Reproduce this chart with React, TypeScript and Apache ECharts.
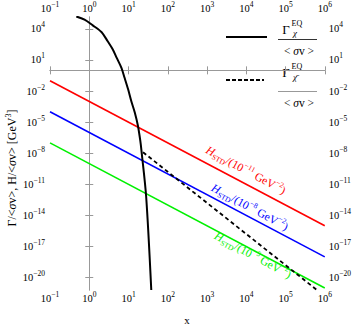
import React, { useEffect, useRef } from "react";
import * as echarts from "echarts";

// log10(x) tick positions and log10(y) tick positions
const xTicks = [-1, 0, 1, 2, 3, 4, 5, 6];
const yTicks = [-20, -17, -14, -11, -8, -5, -2, 1, 4];

// H/<σv> lines (log10 x, log10 y)
const hubbleLogX = [-1, 6];
const redLogY = [-1, -15];
const blueLogY = [-4, -18];
const greenLogY = [-7, -21];

// Γ_χ^EQ/<σv> (solid black)
const gammaLogX = [-0.33, -0.12, 0.09, 0.31, 0.47, 0.6, 0.7, 0.82, 0.9, 0.99, 1.07, 1.16, 1.24, 1.3, 1.33, 1.45, 1.58];
const gammaLogY = [5.2, 4.9, 4.34, 3.7, 2.81, 2.01, 1.2, 0.24, -0.72, -1.83, -2.95, -4.07, -5.35, -6.79, -7.75, -12.2, -21.2];

// Γ_χ̄^EQ/<σv> (dashed black)
const gammaBarLogX = [1.37, 5.8];
const gammaBarLogY = [-7.9, -21.2];

const SERIF = '"Liberation Serif", "DejaVu Serif", serif';
const M = "\u2212";

const pair = (xs: number[], ys: number[]) => xs.map((x, i) => [x, ys[i]]);
const expLabel = (v: number) => `{b|10}{s|${v < 0 ? M + Math.abs(v) : v}}`;
const tickRich = {
  b: { fontFamily: SERIF, fontSize: 10.5, lineHeight: 16, color: "#000" },
  s: { fontFamily: SERIF, fontSize: 7.5, lineHeight: 7, verticalAlign: "top", color: "#000" },
};

function makeX(position: "top" | "bottom") {
  return {
    type: "value",
    position,
    min: xTicks[0],
    max: xTicks[xTicks.length - 1],
    interval: 1,
    axisLine: { show: true, lineStyle: { color: "#999", width: 1 } },
    axisTick: { show: true, inside: true, length: 4, lineStyle: { color: "#999" } },
    splitLine: { show: false },
    axisLabel: { show: true, margin: position === "bottom" ? 0 : 1, formatter: expLabel, rich: tickRich },
  };
}
function makeY(position: "left" | "right") {
  return {
    type: "value",
    position,
    min: -21.2,
    max: 5.15,
    axisLine: { show: true, lineStyle: { color: "#999", width: 1 } },
    axisTick: { show: true, inside: true, length: 4, customValues: yTicks, lineStyle: { color: "#999" } },
    splitLine: { show: false },
    axisLabel: {
      show: true,
      margin: position === "left" ? 5 : 4,
      customValues: yTicks,
      formatter: expLabel,
      rich: tickRich,
    },
  };
}

function hLabel(exp: string, color: string, x: number, y: number) {
  return {
    type: "text",
    x,
    y,
    rotation: -0.494,
    style: {
      text: `{h|H}{sc|STD}{n|/(10}{s|${exp}}{n| GeV}{s|${M}2}{n|)}`,
      align: "center",
      verticalAlign: "middle",
      fill: color,
      rich: {
        h: { fontFamily: SERIF, fontStyle: "italic", fontSize: 11.5, lineHeight: 16, color },
        sc: { fontFamily: SERIF, fontSize: 7.5, lineHeight: 12, verticalAlign: "bottom", color },
        n: { fontFamily: SERIF, fontSize: 11.5, lineHeight: 16, color },
        s: { fontFamily: SERIF, fontSize: 7.5, lineHeight: 7, verticalAlign: "top", color },
      },
    },
  };
}

export default function App() {
  const ref = useRef<HTMLDivElement>(null);
  useEffect(() => {
    if (!ref.current) return;
    const chart = echarts.init(ref.current, null, { renderer: "svg" });
    const denomRich = {
      n: { fontFamily: SERIF, fontSize: 11.5, color: "#000" },
      i: { fontFamily: SERIF, fontSize: 11.5, fontStyle: "italic", color: "#000" },
    };
    const green = "#00f000";
    chart.setOption({
      animation: false,
      backgroundColor: "#fff",
      grid: { left: 50, right: 29, top: 16, bottom: 37, containLabel: false },
      xAxis: [makeX("bottom"), makeX("top")],
      yAxis: [makeY("left"), makeY("right")],
      series: [
        { type: "line", data: pair(hubbleLogX, redLogY), symbol: "none", lineStyle: { color: "#ff0000", width: 1.6 } },
        { type: "line", data: pair(hubbleLogX, blueLogY), symbol: "none", lineStyle: { color: "#0000ff", width: 1.6 } },
        { type: "line", data: pair(hubbleLogX, greenLogY), symbol: "none", lineStyle: { color: green, width: 1.6 } },
        { type: "line", data: pair(gammaLogX, gammaLogY), symbol: "none", smooth: 0.3, lineStyle: { color: "#000", width: 2 } },
        { type: "line", data: pair(gammaBarLogX, gammaBarLogY), symbol: "none", lineStyle: { color: "#000", width: 1.8, type: [4, 3] } },
      ],
      graphic: [
        // legend 1
        { type: "line", shape: { x1: 226, y1: 37, x2: 267, y2: 37 }, style: { stroke: "#000", lineWidth: 2 } },
        { type: "text", x: 286, y: 29, style: { text: "Γ", font: `13px ${SERIF}`, fill: "#000", align: "center", verticalAlign: "middle" } },
        { type: "text", x: 291.5, y: 23, style: { text: "EQ", font: `8px ${SERIF}`, fill: "#000", align: "left", verticalAlign: "middle" } },
        { type: "text", x: 293, y: 33, style: { text: "χ", font: `italic 9px ${SERIF}`, fill: "#000", align: "left", verticalAlign: "middle" } },
        { type: "line", shape: { x1: 278, y1: 39.5, x2: 317, y2: 39.5 }, style: { stroke: "#333", lineWidth: 1 } },
        { type: "text", x: 299, y: 51, style: { text: "{n|< }{i|σ}{n|v >}", rich: denomRich, align: "center", verticalAlign: "middle" } },
        // legend 2
        { type: "line", shape: { x1: 226, y1: 80, x2: 264, y2: 80 }, style: { stroke: "#000", lineWidth: 2, lineDash: [4, 2] } },
        { type: "text", x: 286, y: 72, style: { text: "Γ", font: `13px ${SERIF}`, fill: "#000", align: "center", verticalAlign: "middle" } },
        { type: "text", x: 291.5, y: 66, style: { text: "EQ", font: `8px ${SERIF}`, fill: "#000", align: "left", verticalAlign: "middle" } },
        { type: "text", x: 293, y: 77, style: { text: "χ\u0304", font: `italic 9px ${SERIF}`, fill: "#000", align: "left", verticalAlign: "middle" } },
        { type: "line", shape: { x1: 278, y1: 91.5, x2: 317, y2: 91.5 }, style: { stroke: "#999", lineWidth: 1 } },
        { type: "text", x: 299, y: 102.5, style: { text: "{n|< }{i|σ}{n|v >}", rich: denomRich, align: "center", verticalAlign: "middle" } },
        // curve labels
        hLabel(`${M}11`, "#ff0000", 246, 170),
        hLabel(`${M}8`, "#0000ff", 250, 207),
        hLabel(`${M}5`, green, 253, 255),
        // axis titles
        {
          type: "text",
          x: 12,
          y: 168,
          rotation: Math.PI / 2,
          style: {
            text: "{n|Γ/<}{i|σ}{n|v>, H/<}{i|σ}{n|v> [GeV}{s|3}{n|]}",
            align: "center",
            verticalAlign: "middle",
            rich: {
              n: { fontFamily: SERIF, fontSize: 12, lineHeight: 16, color: "#000" },
              i: { fontFamily: SERIF, fontSize: 12, lineHeight: 16, fontStyle: "italic", color: "#000" },
              s: { fontFamily: SERIF, fontSize: 8, lineHeight: 8, verticalAlign: "top", color: "#000" },
            },
          },
        },
        { type: "text", x: 187, y: 320, style: { text: "x", font: `11px ${SERIF}`, fill: "#000", align: "center", verticalAlign: "middle" } },
      ],
    });
    return () => chart.dispose();
  }, []);
  return <div ref={ref} style={{ width: 354, height: 327, position: "absolute", left: 0, top: 0 }} />;
}
